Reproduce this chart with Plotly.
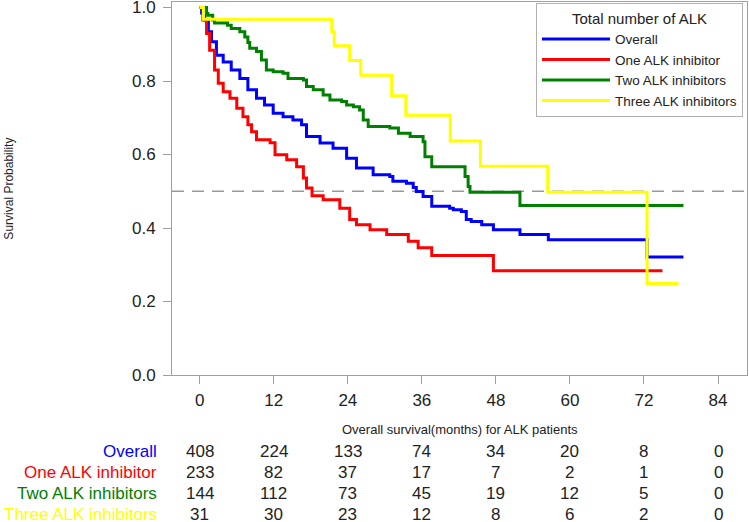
import plotly.graph_objects as go

# ---------------- data ----------------
group_names = ["Overall", "One ALK inhibitor", "Two ALK inhibitors", "Three ALK inhibitors"]
group_colors = ["#0000FF", "#FF0000", "#008000", "#FFFF00"]

overall_t = [0, 0.3, 0.8, 1.4, 1.9, 2.7, 3.8, 5.1, 6.5, 7.8, 9.2, 10.5, 11.9, 13.5, 15.1,
             16.5, 17.3, 19.5, 21.6, 23.8, 25.4, 28.1, 30.8, 31.3, 33.5, 34.6, 35.1, 36.2,
             37.6, 40.5, 41.1, 42.4, 43.2, 44.0, 45.7, 47.6, 51.9, 56.5, 72.5, 78.4]
overall_s = [1.0, 0.985, 0.966, 0.934, 0.907, 0.870, 0.852, 0.830, 0.807, 0.776, 0.753, 0.735,
             0.712, 0.703, 0.694, 0.681, 0.649, 0.631, 0.617, 0.590, 0.563, 0.545, 0.540, 0.527,
             0.522, 0.510, 0.499, 0.486, 0.459, 0.454, 0.450, 0.445, 0.423, 0.418, 0.409, 0.395,
             0.382, 0.368, 0.321, 0.321]

one_t = [0, 0.5, 1.1, 1.6, 2.4, 3.0, 3.8, 4.9, 6.0, 7.0, 7.8, 8.4, 9.2, 11.4, 12.2, 14.1,
         15.7, 16.8, 17.3, 18.2, 20.0, 22.7, 24.3, 25.4, 27.6, 30.3, 33.8, 35.4, 37.6, 47.6, 75.0]
one_s = [1.0, 0.966, 0.929, 0.884, 0.830, 0.794, 0.771, 0.753, 0.726, 0.703, 0.681, 0.662,
         0.640, 0.632, 0.599, 0.586, 0.567, 0.536, 0.509, 0.488, 0.477, 0.454, 0.423, 0.409,
         0.395, 0.382, 0.364, 0.346, 0.325, 0.284, 0.284]

two_t = [0, 1.1, 1.3, 2.1, 2.4, 4.5, 5.1, 6.5, 7.3, 7.8, 8.1, 9.2, 10.0, 10.8, 11.9, 13.5,
         14.3, 16.8, 17.3, 18.4, 20.0, 21.1, 23.0, 23.8, 24.9, 25.9, 26.5, 27.3, 30.8, 32.2,
         34.1, 36.2, 36.5, 37.6, 42.4, 43.0, 43.5, 43.8, 51.9, 78.4]
two_s = [1.0, 0.984, 0.979, 0.966, 0.958, 0.952, 0.943, 0.934, 0.920, 0.905, 0.889, 0.880,
         0.857, 0.830, 0.825, 0.821, 0.807, 0.803, 0.785, 0.776, 0.762, 0.748, 0.744, 0.735,
         0.730, 0.721, 0.694, 0.676, 0.672, 0.658, 0.649, 0.635, 0.594, 0.567, 0.567, 0.540,
         0.513, 0.497, 0.461, 0.461]

three_t = [0, 0.6, 21.4, 21.8, 24.3, 26.1, 31.1, 33.4, 40.6, 45.5, 56.4, 72.5, 77.6]
three_s = [1.0, 0.968, 0.934, 0.896, 0.856, 0.816, 0.760, 0.707, 0.637, 0.568, 0.497, 0.249, 0.249]

risk_times = [0, 12, 24, 36, 48, 60, 72, 84]
risk_overall = [408, 224, 133, 74, 34, 20, 8, 0]
risk_one = [233, 82, 37, 17, 7, 2, 1, 0]
risk_two = [144, 112, 73, 45, 19, 12, 5, 0]
risk_three = [31, 30, 23, 12, 8, 6, 2, 0]

y_ticks = [0.0, 0.2, 0.4, 0.6, 0.8, 1.0]

# ---------------- figure ----------------
FONT = "Liberation Sans, Arial, sans-serif"
series = [(overall_t, overall_s), (one_t, one_s), (two_t, two_s), (three_t, three_s)]

fig = go.Figure()
for (t, s), name, col in zip(series, group_names, group_colors):
    fig.add_trace(go.Scatter(x=t, y=s, mode="lines", name=name,
                             line=dict(color=col, width=3, shape="hv")))

fig.add_shape(type="line", xref="paper", yref="y", x0=0, x1=1, y0=0.5, y1=0.5,
              line=dict(color="#999999", width=1.5, dash="12px,8px"), layer="below")

# risk table
risk_rows = [risk_overall, risk_one, risk_two, risk_three]
row_y = [-0.204, -0.261, -0.318, -0.375]
for name, col, vals, yy in zip(group_names, group_colors, risk_rows, row_y):
    fig.add_annotation(xref="paper", yref="paper", x=-0.022, y=yy, text=name,
                       showarrow=False, xanchor="right", yanchor="middle",
                       font=dict(family=FONT, size=17, color=col))
    for tx, v in zip(risk_times, vals):
        fig.add_annotation(xref="x", yref="paper", x=tx, y=yy, text=str(v),
                           showarrow=False, xanchor="center", yanchor="middle",
                           font=dict(family=FONT, size=17, color="#222222"))

fig.add_annotation(xref="paper", yref="paper", x=0.5, y=-0.147,
                   text="Overall survival(months) for ALK patients", showarrow=False,
                   xanchor="center", yanchor="middle",
                   font=dict(family=FONT, size=13, color="#222222"))

fig.add_annotation(xref="paper", yref="paper", x=-0.285, y=0.5,
                   text="Survival Probability", showarrow=False, textangle=-90,
                   xanchor="center", yanchor="middle",
                   font=dict(family=FONT, size=12, color="#222222"))

fig.update_layout(
    width=749, height=522,
    margin=dict(l=172, r=2, t=2, b=147, autoexpand=False),
    paper_bgcolor="white", plot_bgcolor="white",
    font=dict(family=FONT, size=16, color="#222222"),
    showlegend=True,
    legend=dict(
        x=0.993, y=0.997, xanchor="right", yanchor="top",
        bordercolor="#b0b0b0", borderwidth=1, bgcolor="white",
        font=dict(family=FONT, size=13.5, color="#222222"),
        title=dict(text="Total number of ALK", side="top center",
                   font=dict(family=FONT, size=15, color="#222222")),
        itemwidth=68, tracegroupgap=0,
    ),
    xaxis=dict(range=[-4.5, 88.7], tickvals=risk_times, ticks="outside", ticklen=8,
               tickcolor="#a0a0a0", showline=True, linecolor="#a0a0a0", linewidth=1,
               mirror=True, showgrid=False, zeroline=False, ticklabelstandoff=2,
               automargin=False, ticklabeloverflow="allow",
               tickfont=dict(family=FONT, size=17, color="#222222")),
    yaxis=dict(range=[0, 1.015], tickvals=y_ticks, tickformat=".1f", ticks="outside",
               ticklen=8, tickcolor="#a0a0a0", showline=True, linecolor="#a0a0a0",
               linewidth=1, mirror=True, showgrid=False, zeroline=False,
               ticklabelstandoff=4, automargin=False, ticklabeloverflow="allow",
               tickfont=dict(family=FONT, size=17, color="#222222")),
)

fig.write_html("out.html", config={"displayModeBar": False},
               post_script="document.body.style.margin='0';document.body.style.overflow='hidden';")
